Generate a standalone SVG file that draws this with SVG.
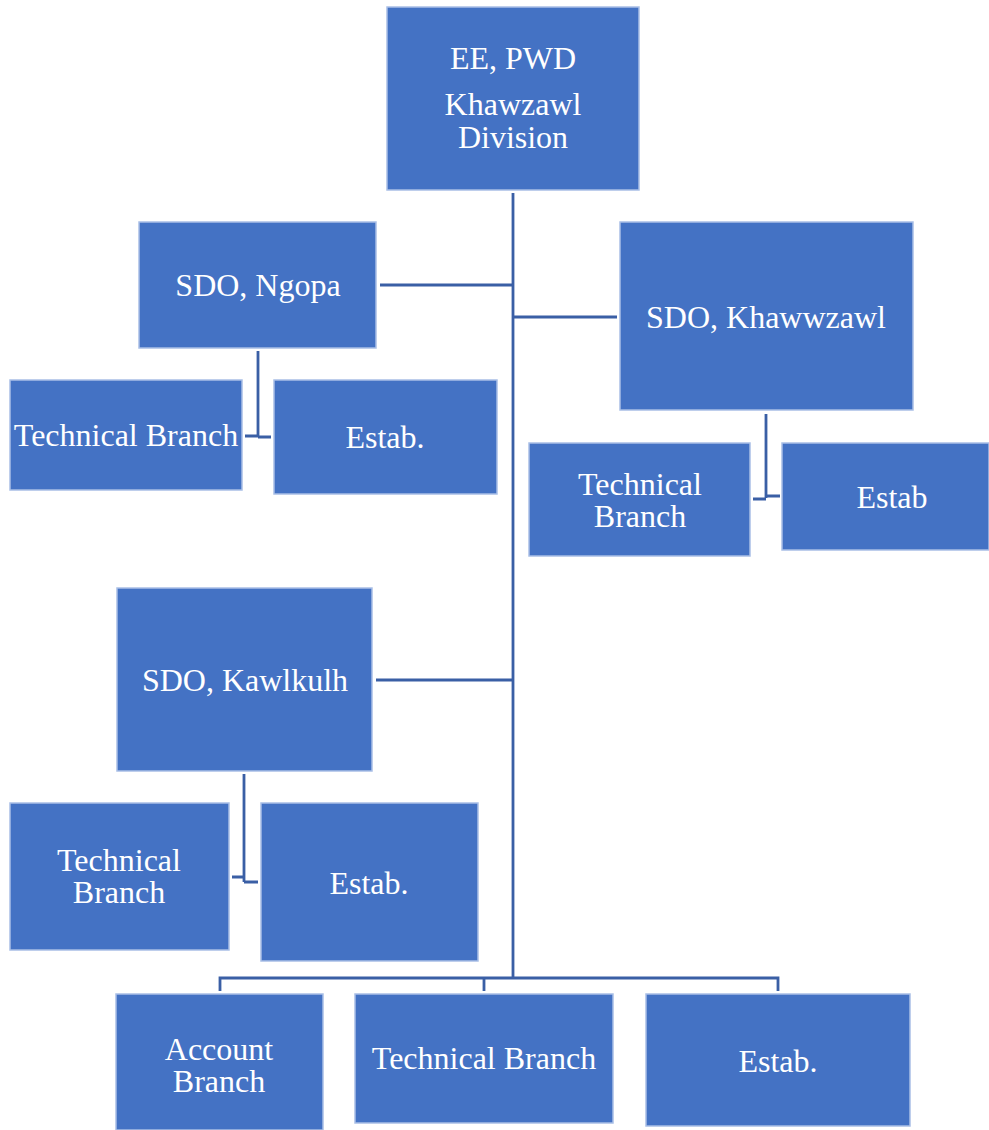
<svg xmlns="http://www.w3.org/2000/svg" width="989" height="1130" viewBox="0 0 989 1130">
<style>
.box{fill:#4472C4;stroke:#A9BFE6;stroke-width:1.5}
.t{font-family:"Liberation Serif","Times New Roman",serif;font-size:32px;fill:#fff;text-anchor:middle}
.c{fill:none;stroke:#3A5FA5;stroke-width:2.8}
</style>
<rect width="989" height="1130" fill="#fff"/>
<g id="connectors">
<path class="c" d="M513 193V978"/>
<path class="c" d="M380 285H513"/>
<path class="c" d="M513 317H617"/>
<path class="c" d="M376 680H513"/>
<path class="c" d="M258 351V437M245 436H258M258 437H271"/>
<path class="c" d="M766 414V498M753 499H766M766 496H780"/>
<path class="c" d="M244 774V882M232 877H244M244 882H258"/>
<path class="c" d="M220 991V978H778V991M484 978V991"/>
</g>
<g id="ee"><rect class="box" x="387" y="7" width="252" height="183"/><text class="t" x="513" y="69">EE, PWD</text><text class="t" x="513" y="115">Khawzawl</text><text class="t" x="513" y="148">Division</text></g>
<g id="sdo-ngopa"><rect class="box" x="139" y="222" width="237" height="126"/><text class="t" x="258" y="296">SDO, Ngopa</text></g>
<g id="sdo-khawwzawl"><rect class="box" x="620" y="222" width="293" height="188"/><text class="t" x="766" y="328">SDO, Khawwzawl</text></g>
<g id="ngopa-tech"><rect class="box" x="10" y="380" width="232" height="110"/><text class="t" x="126" y="446">Technical Branch</text></g>
<g id="ngopa-estab"><rect class="box" x="274" y="380" width="223" height="114"/><text class="t" x="385" y="448">Estab.</text></g>
<g id="khaw-tech"><rect class="box" x="529" y="443" width="221" height="113"/><text class="t" x="640" y="495">Technical</text><text class="t" x="640" y="527">Branch</text></g>
<g id="khaw-estab"><rect class="box" x="782" y="443" width="207" height="107"/><text class="t" x="892" y="508">Estab</text></g>
<g id="sdo-kawlkulh"><rect class="box" x="117" y="588" width="255" height="183"/><text class="t" x="245" y="691">SDO, Kawlkulh</text></g>
<g id="kawl-tech"><rect class="box" x="10" y="803" width="219" height="147"/><text class="t" x="119" y="871">Technical</text><text class="t" x="119" y="903">Branch</text></g>
<g id="kawl-estab"><rect class="box" x="261" y="803" width="217" height="158"/><text class="t" x="369" y="894">Estab.</text></g>
<g id="account"><rect class="box" x="116" y="994" width="207" height="136"/><text class="t" x="219" y="1060">Account</text><text class="t" x="219" y="1092">Branch</text></g>
<g id="div-tech"><rect class="box" x="355" y="994" width="258" height="129"/><text class="t" x="484" y="1069">Technical Branch</text></g>
<g id="div-estab"><rect class="box" x="646" y="994" width="264" height="132"/><text class="t" x="778" y="1072">Estab.</text></g>
</svg>
